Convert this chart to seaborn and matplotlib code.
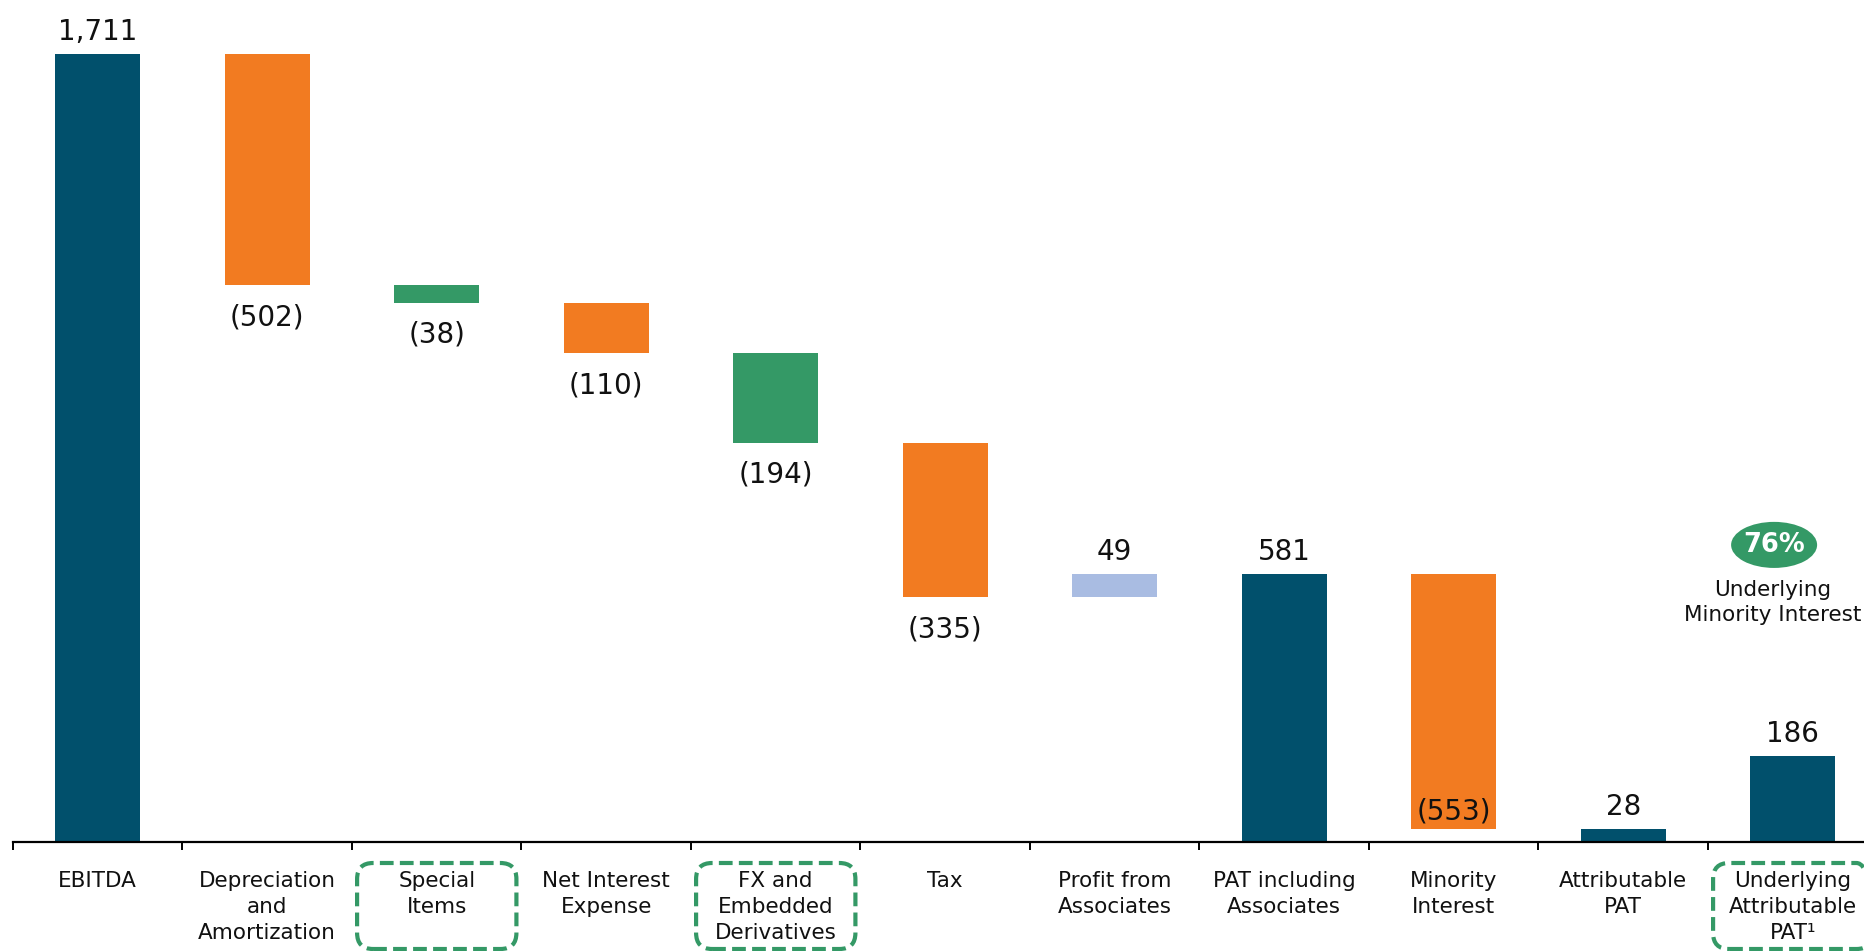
import matplotlib
matplotlib.use("Agg")
import matplotlib.pyplot as plt
from matplotlib.patches import FancyBboxPatch, Ellipse
from matplotlib.transforms import IdentityTransform
import numpy as np
import pandas as pd
import seaborn as sns

# ---- data -------------------------------------------------------------
categories = [
    "EBITDA",
    "Depreciation\nand\nAmortization",
    "Special\nItems",
    "Net Interest\nExpense",
    "FX and\nEmbedded\nDerivatives",
    "Tax",
    "Profit from\nAssociates",
    "PAT including\nAssociates",
    "Minority\nInterest",
    "Attributable\nPAT",
    "Underlying\nAttributable\nPAT\u00b9",
]
changes = [1711, -502, -38, -110, -194, -335, 49, 581, -553, 28, 186]
kinds = ["total", "cost", "item", "cost", "item", "cost", "gain",
         "total", "cost", "total", "total"]
highlighted = ["Special\nItems", "FX and\nEmbedded\nDerivatives",
               "Underlying\nAttributable\nPAT\u00b9"]
badge_value = "76%"
badge_caption = "Underlying\nMinority Interest"

palette = {
    "total": "#01506C",
    "cost": "#F27B21",
    "item": "#349966",
    "gain": "#A9BCE2",
}

# waterfall bases: totals stand on zero, movements start at the running level
bases = []
level = 0
for kind, val in zip(kinds, changes):
    if kind == "total":
        bases.append(0)
        level = val
    else:
        bases.append(level)
        level += val

df = pd.DataFrame({"category": categories, "change": changes,
                   "base": bases, "kind": kinds})

# ---- figure -----------------------------------------------------------
sns.set_theme(style="white")
plt.rcParams["font.family"] = ["DejaVu Sans"]

W, H, DPI = 1865, 951, 100
fig = plt.figure(figsize=(W / DPI, H / DPI), dpi=DPI)
n = len(categories)
cat_px = 169.5
ax = fig.add_axes([13 / W, 109 / H, n * cat_px / W, 842 / H])

sns.barplot(data=df, x="category", y="change", order=categories,
            bottom=df["base"].to_numpy(), width=0.5, errorbar=None,
            color=palette["total"], linewidth=0, ax=ax)
for patch, kind in zip(ax.patches, kinds):
    patch.set_facecolor(palette[kind])
    patch.set_edgecolor("none")

ax.set_xlim(-0.5, n - 0.5)
ax.set_ylim(0, 1828)
ax.set_xlabel("")
ax.set_ylabel("")
ax.set_yticks([])
for side in ("left", "right", "top"):
    ax.spines[side].set_visible(False)
ax.spines["bottom"].set_color("black")
ax.spines["bottom"].set_linewidth(1.6)

ax.set_xticks(range(n))
ax.set_xticklabels(categories, fontsize=15.5, color="#111111", linespacing=1.37)
ax.set_xticks(np.arange(-0.5, n, 1.0), minor=True)
ax.tick_params(axis="x", which="major", bottom=False, length=0, pad=21)
ax.tick_params(axis="x", which="minor", bottom=True, length=5.5, width=1.4,
               color="black", direction="out")

# ---- value labels -----------------------------------------------------
label_kw = dict(textcoords="offset points", ha="center",
                fontsize=20, color="#111111")
for i, (kind, val, base) in enumerate(zip(kinds, changes, bases)):
    top = base + max(val, 0)
    bottom = base + min(val, 0)
    if val >= 0:
        ax.annotate(f"{val:,}", (i, top), xytext=(0, 10),
                    va="baseline", **label_kw)
    elif bottom < 100:
        ax.annotate(f"({-val:,})", (i, bottom), xytext=(0, 7),
                    va="baseline", **label_kw)
    else:
        ax.annotate(f"({-val:,})", (i, bottom), xytext=(0, -13),
                    va="top", **label_kw)

# ---- badge ------------------------------------------------------------
badge_x = 9.89
ax.add_patch(Ellipse((badge_x, 645), width=86 / cat_px, height=100,
                     facecolor="#349966", edgecolor="none", clip_on=False))
ax.text(badge_x, 645, badge_value, ha="center", va="center", fontsize=18.5,
        fontweight="bold", color="white")
ax.text(badge_x - 0.01, 520, badge_caption, ha="center", va="center",
        fontsize=15.5, color="#111111", linespacing=1.3)

# ---- dashed frames around highlighted categories --------------------
fig.canvas.draw()
for label in highlighted:
    i = categories.index(label)
    x0 = ax.transData.transform((i - 0.47, 0))[0]
    x1 = ax.transData.transform((i + 0.47, 0))[0]
    y0, y1 = H - 949, H - 863
    fig.patches.append(FancyBboxPatch(
        (x0, y0), x1 - x0, y1 - y0,
        boxstyle="round,pad=0,rounding_size=16",
        transform=IdentityTransform(), figure=fig,
        facecolor="none", edgecolor="#349966", linewidth=3,
        linestyle=(0, (3.3, 1.5))))

fig.savefig("out.png", dpi=DPI, facecolor="white")
